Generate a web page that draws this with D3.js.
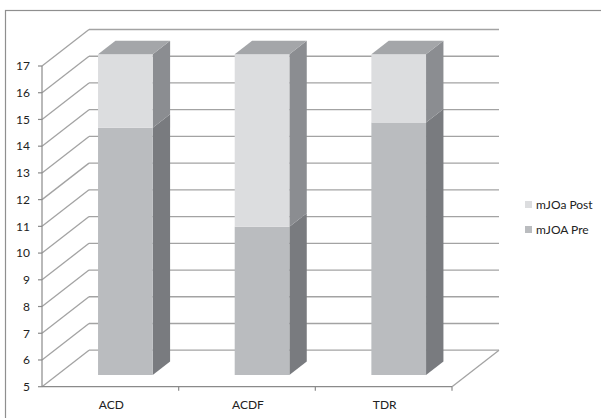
<!DOCTYPE html>
<html>
<head>
<meta charset="utf-8">
<script src="https://cdn.jsdelivr.net/npm/d3@7"></script>
<style>
  html, body { margin: 0; padding: 0; background: #fff; }
  svg { display: block; }
  text { font-family: Lato, "Open Sans", sans-serif; fill: #222; }
</style>
</head>
<body>
<svg id="chart" width="601" height="418"></svg>
<script>
// mJOA scores by procedure (stacked 3D columns)
const categories = ["ACD", "ACDF", "TDR"];
const preValues  = [14.25, 10.55, 14.45];
const postValues = [2.75, 6.45, 2.55];
const seriesNames = ["mJOa Post", "mJOA Pre"];
const yTicks = [5, 6, 7, 8, 9, 10, 11, 12, 13, 14, 15, 16, 17];

const svg = d3.select("#chart");

// Outer frame
svg.append("rect")
  .attr("x", 5.5).attr("y", 10.5)
  .attr("width", 610).attr("height", 420)
  .attr("fill", "none").attr("stroke", "#8f8f8f").attr("stroke-width", 1.2);

// Front plane scales
const y = d3.scaleLinear().domain([5, 17]).range([386.7, 66]);
const x = d3.scaleBand().domain(categories).range([42, 452])
  .paddingInner(0.6).paddingOuter(0.3);
const xFull = d3.scaleBand().domain(categories).range([42, 452]);

// Depth projection: 0 = front plane, 1 = back wall
const depthX = d3.scaleLinear().domain([0, 1]).range([0, 47]);
const depthY = d3.scaleLinear().domain([0, 1]).range([0, -36.5]);
const barZ0 = 0.32, barZ1 = 0.69;

const gridColor = "#a3a3a3";
const axisColor = "#8a8a8a";

// Back wall gridlines and side-wall diagonals
const grid = svg.append("g");
yTicks.forEach(v => {
  grid.append("line")
    .attr("x1", 42 + depthX(1)).attr("x2", 452 + depthX(1))
    .attr("y1", y(v) + depthY(1)).attr("y2", y(v) + depthY(1))
    .attr("stroke", gridColor).attr("stroke-width", 1.3);
  grid.append("line")
    .attr("x1", 42).attr("y1", y(v))
    .attr("x2", 42 + depthX(1)).attr("y2", y(v) + depthY(1))
    .attr("stroke", gridColor).attr("stroke-width", 1.3);
});
// Floor right edge
grid.append("line")
  .attr("x1", 452).attr("y1", y(5))
  .attr("x2", 452 + depthX(1)).attr("y2", y(5) + depthY(1))
  .attr("stroke", gridColor).attr("stroke-width", 1.3);

// Colours for each face
const faces = {
  pre:  { front: "#babcbf", side: "#797b7f", top: "#a4a6a9" },
  post: { front: "#dcdddf", side: "#8b8d91", top: "#a4a6a9" }
};

const poly = pts => "M" + pts.map(p => p.join(",")).join("L") + "Z";

function drawBlock(g, x0, x1, v0, v1, c, withTop) {
  const fx = depthX(barZ0), fy = depthY(barZ0);
  const bx = depthX(barZ1), by = depthY(barZ1);
  const yb = y(v0), yt = y(v1);
  // side face
  g.append("path").attr("d", poly([
    [x1 + fx, yt + fy], [x1 + bx, yt + by], [x1 + bx, yb + by], [x1 + fx, yb + fy]
  ])).attr("fill", c.side);
  // front face
  g.append("path").attr("d", poly([
    [x0 + fx, yt + fy], [x1 + fx, yt + fy], [x1 + fx, yb + fy], [x0 + fx, yb + fy]
  ])).attr("fill", c.front);
  if (withTop) {
    g.append("path").attr("d", poly([
      [x0 + fx, yt + fy], [x0 + bx, yt + by], [x1 + bx, yt + by], [x1 + fx, yt + fy]
    ])).attr("fill", c.top);
  }
}

const bars = svg.append("g");
categories.forEach((cat, i) => {
  const x0 = x(cat), x1 = x(cat) + x.bandwidth();
  const pre = preValues[i];
  const top = pre + postValues[i];
  const g = bars.append("g");
  drawBlock(g, x0, x1, 5, pre, faces.pre, false);
  drawBlock(g, x0, x1, pre, top, faces.post, true);
});

// Vertical axis
const yAxisG = svg.append("g");
yAxisG.append("line")
  .attr("x1", 42).attr("x2", 42).attr("y1", y(17)).attr("y2", y(5))
  .attr("stroke", axisColor).attr("stroke-width", 1.2);
yTicks.forEach(v => {
  yAxisG.append("line")
    .attr("x1", 38).attr("x2", 42).attr("y1", y(v)).attr("y2", y(v))
    .attr("stroke", axisColor).attr("stroke-width", 1.2);
  yAxisG.append("text")
    .attr("x", 30).attr("y", y(v)).attr("dy", "0.36em")
    .attr("text-anchor", "end").attr("font-size", 12)
    .text(v);
});

// Horizontal axis
const xAxisG = svg.append("g");
xAxisG.append("line")
  .attr("x1", 42).attr("x2", 452).attr("y1", y(5)).attr("y2", y(5))
  .attr("stroke", axisColor).attr("stroke-width", 1.2);
categories.forEach(cat => {
  const right = xFull(cat) + xFull.bandwidth();
  xAxisG.append("line")
    .attr("x1", right).attr("x2", right).attr("y1", y(5)).attr("y2", y(5) + 4)
    .attr("stroke", axisColor).attr("stroke-width", 1.2);
  xAxisG.append("text")
    .attr("x", xFull(cat) + xFull.bandwidth() / 2 + 1)
    .attr("y", 405).attr("dy", "0.36em")
    .attr("text-anchor", "middle").attr("font-size", 12)
    .text(cat);
});

// Legend
const legendColors = [faces.post.front, faces.pre.front];
const legend = svg.append("g");
seriesNames.forEach((name, i) => {
  const cy = 204.5 + i * 25;
  legend.append("rect")
    .attr("x", 525).attr("y", cy - 3.5).attr("width", 7).attr("height", 7)
    .attr("fill", legendColors[i]);
  legend.append("text")
    .attr("x", 536).attr("y", cy).attr("dy", "0.36em")
    .attr("font-size", 12)
    .text(name);
});
</script>
</body>
</html>
